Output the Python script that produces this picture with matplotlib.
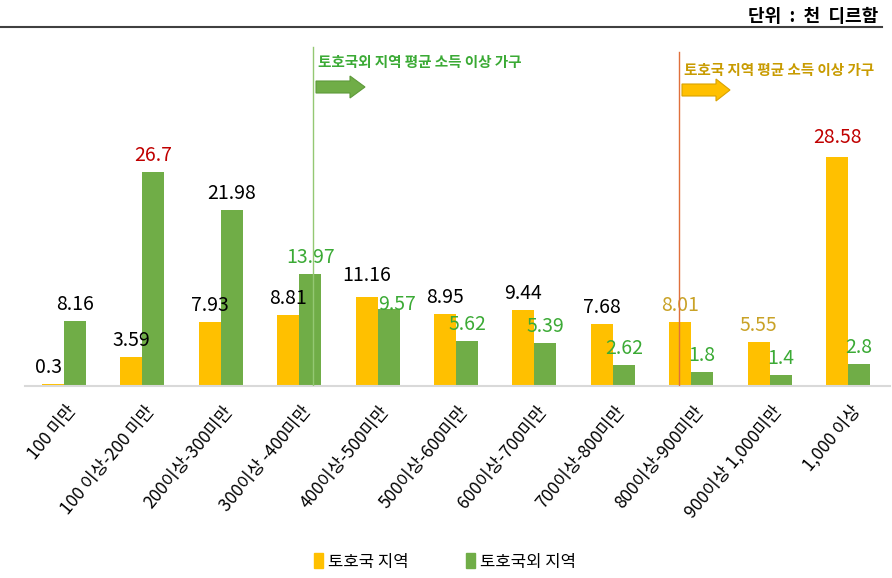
import matplotlib
matplotlib.use("Agg")
from matplotlib import pyplot as plt
from matplotlib.patches import FancyArrow, Patch
import numpy as np

plt.rcParams['font.family'] = ['Noto Sans CJK KR', 'DejaVu Sans']

# data
categories = ["100 미만", "100 이상-200 미만", "200이상-300미만", "300이상 -400미만",
              "400이상-500미만", "500이상-600미만", "600이상-700미만", "700이상-800미만",
              "800이상-900미만", "900이상 1,000미만", "1,000 이상"]
tohoguk = [0.3, 3.59, 7.93, 8.81, 11.16, 8.95, 9.44, 7.68, 8.01, 5.55, 28.58]
tohoguk_oe = [8.16, 26.7, 21.98, 13.97, 9.57, 5.62, 5.39, 2.62, 1.8, 1.4, 2.8]

YELLOW = "#FFC000"
GREEN = "#70AD47"
RED_TXT = "#C00000"
GREEN_TXT = "#3BAA35"
GOLD_TXT = "#C9A227"

lab_col_y = ["black"] * 8 + [GOLD_TXT, GOLD_TXT, RED_TXT]
lab_col_g = ["black", RED_TXT, "black"] + [GREEN_TXT] * 8

W, H = 892, 578
fig = plt.figure(figsize=(W / 100, H / 100), dpi=100)

# axes placed in pixel terms
left_px, right_px, base_px, top_px = 25, 890, 386, 30
ax = fig.add_axes([left_px / W, 1 - base_px / H, (right_px - left_px) / W, (base_px - top_px) / H])

step = 78.4          # px per category
ppu = 8.01           # px per value unit
x0 = -(64 - left_px) / step
ax.set_xlim(x0, x0 + (right_px - left_px) / step)
ax.set_ylim(0, (base_px - top_px) / ppu)

x = np.arange(len(categories))
bw = 22 / step
ax.bar(x - bw / 2, tohoguk, bw, color=YELLOW, label="토호국 지역", zorder=2)
ax.bar(x + bw / 2, tohoguk_oe, bw, color=GREEN, label="토호국외 지역", zorder=2)

for s in ["top", "left", "right"]:
    ax.spines[s].set_visible(False)
ax.spines["bottom"].set_color("#D9D9D9")
ax.spines["bottom"].set_linewidth(1.5)
ax.set_yticks([])
ax.set_xticks([])

# rotated category labels
for i, cat in enumerate(categories):
    ax.annotate(cat, (x[i], 0), xytext=(9 * 0.72, -22 * 0.72), textcoords="offset points",
                rotation=50, ha="right", va="center", rotation_mode="anchor",
                fontsize=12.5, annotation_clip=False)

# value labels (offsets in px above bar top)
off_y = {0: (-4, 11), 4: (0, 16), 10: (0, 14)}
off_g = {4: (8, -1)}
for i in range(len(categories)):
    dx, dy = off_y.get(i, (0, 11))
    ax.annotate(f"{tohoguk[i]:g}", (x[i] - bw / 2, tohoguk[i]), xytext=(dx * 0.72, dy * 0.72),
                textcoords="offset points", ha="center", va="baseline",
                fontsize=14, color=lab_col_y[i], zorder=3)
    dx, dy = off_g.get(i, (0, 11))
    ax.annotate(f"{tohoguk_oe[i]:g}", (x[i] + bw / 2, tohoguk_oe[i]), xytext=(dx * 0.72, dy * 0.72),
                textcoords="offset points", ha="center", va="baseline",
                fontsize=14, color=lab_col_g[i], zorder=3)

# vertical marker lines
gx = 3 + (313 - 299.2) / step
ox = 8 + (679 - 691.2) / step
ax.plot([gx, gx], [0, (base_px - 47) / ppu], color="#94C873", lw=1, zorder=4)
ax.plot([ox, ox], [0, (base_px - 52) / ppu], color="#E0703C", lw=1, zorder=4)


def fx(px):
    return px / W


def fy(py):
    return 1 - py / H


fig.text(fx(318), fy(67), "토호국외 지역 평균 소득 이상 가구", color=GREEN_TXT,
         fontsize=10.5, fontweight="bold", va="baseline")
fig.text(fx(684), fy(75), "토호국 지역 평균 소득 이상 가구", color="#C89B00",
         fontsize=10.5, fontweight="bold", va="baseline")

fig.patches.append(FancyArrow(fx(316), fy(87), fx(34), 0, width=12 / H, head_width=22 / H,
                              head_length=fx(15), length_includes_head=False,
                              transform=fig.transFigure, color=GREEN, ec="#5E9A3A", lw=0.8))
fig.patches.append(FancyArrow(fx(682), fy(90), fx(34), 0, width=12 / H, head_width=22 / H,
                              head_length=fx(14), length_includes_head=False,
                              transform=fig.transFigure, color=YELLOW, ec="#D9A300", lw=0.8))

# header
fig.text(fx(878), fy(22), "단위  :  천  디르함", ha="right", va="baseline",
         fontsize=13, fontweight="bold")
fig.add_artist(plt.Line2D([0, fx(882)], [fy(27), fy(27)], color="#404040", lw=1.5,
                          transform=fig.transFigure))

handles = [Patch(color=YELLOW, label="토호국 지역"), Patch(color=GREEN, label="토호국외 지역")]
fig.legend(handles=handles, loc="center", bbox_to_anchor=(fx(445), fy(562)), ncol=2,
           frameon=False, fontsize=12, handlelength=0.5, handleheight=1.0,
           handletextpad=0.3, columnspacing=3.5)

fig.savefig("out.png", dpi=100)
